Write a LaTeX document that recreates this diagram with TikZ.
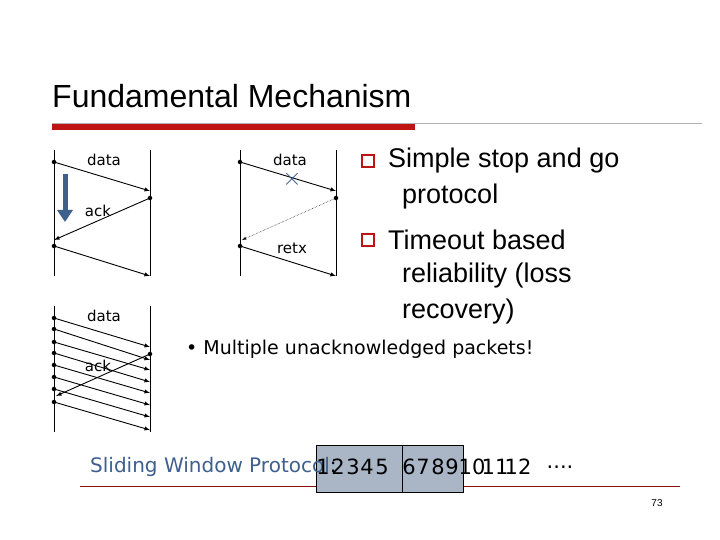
\documentclass[tikz,border=0pt]{standalone}
\usepackage{fontspec}
\usetikzlibrary{arrows.meta}
\setmainfont{Liberation Sans}
\newfontfamily\vfont{DejaVu Sans}
\begin{document}
\begin{tikzpicture}[x=1pt,y=-1pt,
  tl/.style={line width=0.8pt},
  msg/.style={line width=0.9pt,-latex},
  dot/.style={circle,fill,inner sep=1.6pt},
  lbl/.style={font=\vfont\fontsize{15}{15}\selectfont,inner sep=0},
  big/.style={font=\fontsize{27}{30}\selectfont,anchor=west,inner sep=0},
  num/.style={font=\vfont\fontsize{21}{21}\selectfont,inner sep=0}]
\definecolor{bl}{RGB}{62,96,140}
\definecolor{rd}{RGB}{190,20,20}
\definecolor{boxg}{RGB}{170,182,198}
\useasboundingbox (0,0) rectangle (720,540);
\fill[white] (0,0) rectangle (720,540);
% title
\node[anchor=base west,inner sep=0,font=\fontsize{32}{34}\selectfont] (title) at (52,108) {Fundamental Mechanism};
\draw[gray!60,line width=0.6pt] (52,123) -- (702,123);
\fill[rd] (52,124) rectangle (415,130);
% diagram 1
\coordinate (a1) at (54,150); \coordinate (a2) at (54,276);
\coordinate (b1) at (150,150); \coordinate (b2) at (150,276);
\draw[tl] (a1)--(a2); \draw[tl] (b1)--(b2);
\node[dot] (p1) at (54,162) {}; \coordinate (q1) at (150,191);
\node[dot] (q2) at (150,198) {}; \coordinate (p2) at (54,240);
\node[dot] (p3) at (54,246) {}; \coordinate (q3) at (150,276);
\draw[msg] (p1.center)--(q1); \draw[msg] (q2.center)--(p2); \draw[msg] (p3.center)--(q3);
\node[lbl] (l1) at (104,160) {data};
\node[lbl] (l2) at (98,211) {ack};
\coordinate (ba) at (65,174); \coordinate (bb) at (65,222);
\draw[bl,line width=5pt,-{Triangle[width=15pt,length=12pt]}] (ba)--(bb);
% diagram 2
\coordinate (c1) at (240,150); \coordinate (c2) at (240,276);
\coordinate (d1) at (336,150); \coordinate (d2) at (336,276);
\draw[tl] (c1)--(c2); \draw[tl] (d1)--(d2);
\node[dot] (r1) at (240,162) {}; \coordinate (s1) at (336,191);
\node[dot] (s2) at (336,198) {}; \coordinate (r2) at (242,240);
\node[dot] (r3) at (240,246) {}; \coordinate (s3) at (336,276);
\draw[msg] (r1.center)--(s1); \draw[line width=0.5pt,densely dotted,-latex] (s2.center)--(r2); \draw[msg] (r3.center)--(s3);
\node[lbl] (l3) at (290,160) {data};
\node[lbl] (l4) at (292,248) {retx};
\node[bl,font=\fontsize{30}{30}\selectfont\bfseries,inner sep=0] (x) at (292,179) {$\times$};
% diagram 3
\coordinate (e1) at (54,306); \coordinate (e2) at (54,432);
\coordinate (f1) at (150,306); \coordinate (f2) at (150,432);
\draw[tl] (e1)--(e2); \draw[tl] (f1)--(f2);
\foreach \i/\ya/\yb in {1/318/347,2/329/360,3/342/370,4/353/382,5/365/393,6/377/405,7/389/417,8/402/430}{
  \node[dot] (m\i) at (54,\ya) {}; \coordinate (n\i) at (150,\yb);
  \draw[msg] (m\i.center)--(n\i);}
\node[dot] (k1) at (150,354) {}; \coordinate (k2) at (56,396);
\draw[msg] (k1.center)--(k2);
\node[lbl] (l5) at (104,316) {data};
\node[lbl] (l6) at (98,366) {ack};
% bullets
\foreach \y in {161,240}{\draw[rd,line width=1.3pt] (362,\y-6) rectangle (374,\y+6);}
\node[big] (t1) at (388,161) {Simple stop and go};
\node[big] (t2) at (402,197) {protocol};
\node[big] (t3) at (388,240) {Timeout based};
\node[big] (t4) at (402,276) {reliability (loss};
\node[big] (t5) at (402,312) {recovery)};
\node[anchor=west,inner sep=0,font=\vfont\fontsize{19}{19}\selectfont] (t6) at (186,349) {• Multiple unacknowledged packets!};
% sliding window
\draw[rd!70!black,line width=0.5pt] (80,486) -- (680,486);
\fill[boxg] (316,445) rectangle (463,492);
\draw[line width=0.7pt] (316,445) rectangle (463,492);
\draw[line width=0.7pt] (402,445) -- (402,492);
\node[anchor=west,inner sep=0,font=\vfont\fontsize{20}{20}\selectfont,text=bl] (sw) at (90,467) {Sliding Window Protocol\textcolor{black}{:}};
\foreach \x/\t in {323/1,338/2,353/3,367/4,382/5,409/6,423/7,438/8,452/9,472/10,495/11,518/12}{
  \node[num] at (\x,467) {\t};}
\node[num] (dots) at (560,467) {....};
\node[font=\fontsize{10}{10}\selectfont,inner sep=0] (pg) at (657,503) {73};
\end{tikzpicture}
\end{document}
